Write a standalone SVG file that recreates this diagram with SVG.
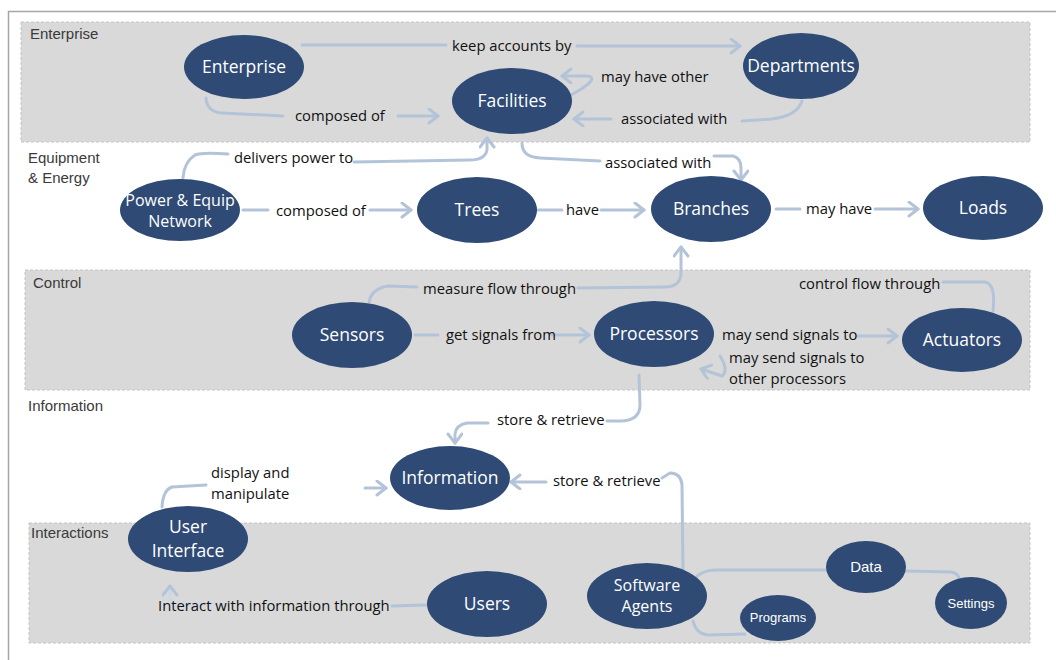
<svg xmlns="http://www.w3.org/2000/svg" width="1056" height="660" viewBox="0 0 1056 660">
<style>
.band{fill:#d9d9d9;stroke:#c4c4c4;stroke-width:1;stroke-dasharray:3 2}
.blabel{font-family:"Liberation Sans",Arial,sans-serif;font-size:15px;fill:#3a3a3a}
.node{fill:#2e4a75}
.nt{font-family:"Open Sans","Liberation Sans",sans-serif;font-size:17.5px;fill:#ffffff;text-anchor:middle}
.ns{font-family:"Liberation Sans",Arial,sans-serif;font-size:13px;fill:#ffffff;text-anchor:middle}
.lbl{font-family:"Open Sans","Liberation Sans",sans-serif;font-size:14.8px;fill:#111111}
.c{fill:none;stroke:#b4c4d8;stroke-width:3;stroke-linecap:round;stroke-linejoin:round}
.ca{marker-end:url(#arr)}
</style>
<defs>
<marker id="arr" markerUnits="userSpaceOnUse" markerWidth="16" markerHeight="18" refX="11" refY="8" orient="auto">
<path d="M2,1 L11,8 L2,15" fill="none" stroke="#b4c4d8" stroke-width="3" stroke-linecap="round" stroke-linejoin="round"/>
</marker>
</defs>
<rect x="0" y="0" width="1056" height="660" fill="#ffffff"/>
<path d="M8.5,660 L8.5,11.5 L1056,11.5" fill="none" stroke="#a6a6a6" stroke-width="1.5"/>
<g id="bands">
<rect class="band" x="21" y="22" width="1009" height="120"/>
<rect class="band" x="25" y="270" width="1005" height="120"/>
<rect class="band" x="29" y="523" width="1001" height="120"/>
<text class="blabel" x="30" y="39">Enterprise</text>
<text class="blabel" x="28" y="163">Equipment</text>
<text class="blabel" x="28" y="183">&amp; Energy</text>
<text class="blabel" x="33" y="288">Control</text>
<text class="blabel" x="28" y="411">Information</text>
<text class="blabel" x="31" y="538">Interactions</text>
</g>
<g id="connectors">
<path class="c" d="M302,45 L446,45"/>
<path class="c ca" d="M577,46 L740,46"/>
<path class="c" d="M206,98 Q207,112 222,113 L283,116"/>
<path class="c ca" d="M398,116 L438,116"/>
<path class="c ca" d="M569,96 Q585,88 591,81 Q594,76 586,76 L562,76"/>
<path class="c" d="M802,101 Q797,116 772,119 L742,121"/>
<path class="c ca" d="M611,119 L574,119"/>
<path class="c" d="M183,178 Q184,162 195,155 Q202,152 228,154"/>
<path class="c ca" d="M354,162 L470,160 Q485,160 487,150 L487,138"/>
<path class="c" d="M522,143 Q522,157 540,158 L600,161"/>
<path class="c ca" d="M714,156 L733,156 Q741,158 741,168 L741,180"/>
<path class="c" d="M243,210 L268,210"/>
<path class="c ca" d="M370,210 L411,210"/>
<path class="c" d="M538,210 L562,210"/>
<path class="c ca" d="M601,210 L644,210"/>
<path class="c" d="M776,209 L800,209"/>
<path class="c ca" d="M875,209 L918,209"/>
<path class="c" d="M369,304 Q370,289 388,286 L417,287"/>
<path class="c ca" d="M578,288 L665,287 Q681,287 681,272 L681,247"/>
<path class="c" d="M993,311 Q996,284 985,282 L943,282"/>
<path class="c" d="M415,335 L438,335"/>
<path class="c ca" d="M552,335 L589,335"/>
<path class="c ca" d="M858,336 L897,336"/>
<path class="c ca" d="M720,356 Q729,370 722,376 L701,369"/>
<path class="c" d="M639,375 L640,405 Q640,420 622,421 L607,421"/>
<path class="c ca" d="M488,423 L467,423 Q456,425 455,434 L455,443"/>
<path class="c" d="M683,571 L682,485 Q681,473 670,473 L662,478"/>
<path class="c ca" d="M546,482 L511,482"/>
<path class="c" d="M162,507 Q163,490 172,487 L206,485"/>
<path class="c ca" d="M365,488 L386,488"/>
<path class="c" d="M426,605 L392,606"/>
<path class="c ca" d="M230,604 L176,604 Q170,604 170,597 L170,586" style="stroke:#cdd8e6"/>
<path class="c" d="M694,579 Q702,570 716,570 L828,570"/>
<path class="c" d="M905,571 L951,572 Q960,573 960,584"/>
<path class="c" d="M693,621 Q696,634 708,635 L745,634"/>
</g>
<g id="n-enterprise"><ellipse class="node" cx="244" cy="67" rx="60" ry="32"/><text class="nt" x="244" y="73">Enterprise</text></g>
<g id="n-facilities"><ellipse class="node" cx="512" cy="101" rx="60" ry="33"/><text class="nt" x="512" y="107">Facilities</text></g>
<g id="n-departments"><ellipse class="node" cx="801" cy="66" rx="58" ry="33"/><text class="nt" x="801" y="72">Departments</text></g>
<g id="n-pen"><ellipse class="node" cx="180" cy="210" rx="60" ry="31"/><text class="nt" x="180" y="206" style="font-size:16px">Power &amp; Equip</text><text class="nt" x="180" y="227" style="font-size:16px">Network</text></g>
<g id="n-trees"><ellipse class="node" cx="477" cy="210" rx="60" ry="33"/><text class="nt" x="477" y="216">Trees</text></g>
<g id="n-branches"><ellipse class="node" cx="711" cy="209" rx="60" ry="33"/><text class="nt" x="711" y="215">Branches</text></g>
<g id="n-loads"><ellipse class="node" cx="983" cy="208" rx="60" ry="32"/><text class="nt" x="983" y="214">Loads</text></g>
<g id="n-sensors"><ellipse class="node" cx="352" cy="335" rx="60" ry="33"/><text class="nt" x="352" y="341">Sensors</text></g>
<g id="n-processors"><ellipse class="node" cx="654" cy="334" rx="60" ry="33"/><text class="nt" x="654" y="340">Processors</text></g>
<g id="n-actuators"><ellipse class="node" cx="962" cy="340" rx="60" ry="32"/><text class="nt" x="962" y="346">Actuators</text></g>
<g id="n-information"><ellipse class="node" cx="450" cy="478" rx="60" ry="32"/><text class="nt" x="450" y="484">Information</text></g>
<g id="n-ui"><ellipse class="node" cx="188" cy="539" rx="60" ry="33"/><text class="nt" x="188" y="533">User</text><text class="nt" x="188" y="557">Interface</text></g>
<g id="n-users"><ellipse class="node" cx="487" cy="604" rx="60" ry="33"/><text class="nt" x="487" y="610">Users</text></g>
<g id="n-agents"><ellipse class="node" cx="647" cy="596" rx="60" ry="33"/><text class="nt" x="647" y="591" style="font-size:16px">Software</text><text class="nt" x="647" y="612" style="font-size:16px">Agents</text></g>
<g id="n-data"><ellipse class="node" cx="866" cy="567" rx="40" ry="26"/><text class="ns" x="866" y="572" style="font-size:15px">Data</text></g>
<g id="n-programs"><ellipse class="node" cx="778" cy="618" rx="38" ry="23"/><text class="ns" x="778" y="622">Programs</text></g>
<g id="n-settings"><ellipse class="node" cx="971" cy="603" rx="36" ry="26"/><text class="ns" x="971" y="608">Settings</text></g>
<g id="labels">
<text class="lbl" x="452" y="51">keep accounts by</text>
<text class="lbl" x="295" y="121">composed of</text>
<text class="lbl" x="601" y="82">may have other</text>
<text class="lbl" x="621" y="124">associated with</text>
<text class="lbl" x="234" y="163">delivers power to</text>
<text class="lbl" x="605" y="168">associated with</text>
<text class="lbl" x="276" y="216">composed of</text>
<text class="lbl" x="566" y="215">have</text>
<text class="lbl" x="806" y="214">may have</text>
<text class="lbl" x="423" y="294">measure flow through</text>
<text class="lbl" x="799" y="289">control flow through</text>
<text class="lbl" x="446" y="340">get signals from</text>
<text class="lbl" x="722" y="340">may send signals to</text>
<text class="lbl" x="729" y="363">may send signals to</text>
<text class="lbl" x="729" y="384">other processors</text>
<text class="lbl" x="497" y="425">store &amp; retrieve</text>
<text class="lbl" x="211" y="478">display and</text>
<text class="lbl" x="211" y="499">manipulate</text>
<text class="lbl" x="553" y="486">store &amp; retrieve</text>
<text class="lbl" x="158" y="611">Interact with information through</text>
</g>
</svg>
